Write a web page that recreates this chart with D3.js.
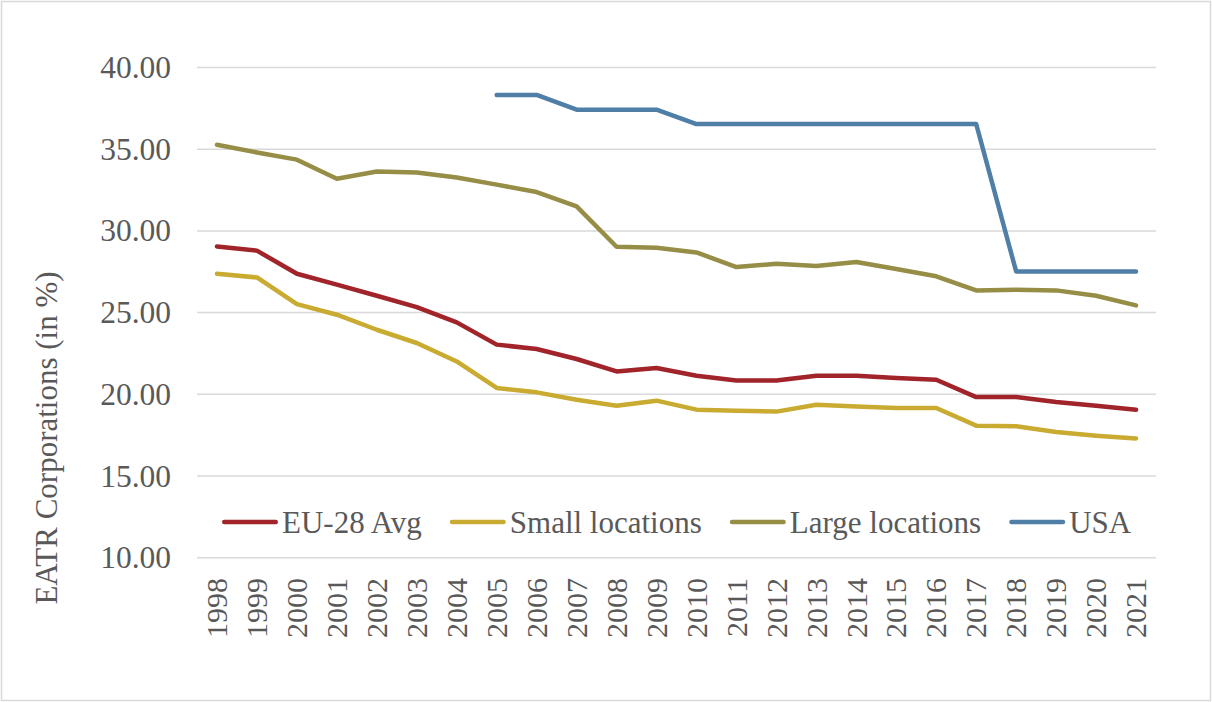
<!DOCTYPE html>
<html>
<head>
<meta charset="utf-8">
<script src="https://cdn.jsdelivr.net/npm/d3@7/dist/d3.min.js"></script>
<style>
  html, body { margin: 0; padding: 0; background: #fff; }
  svg text { font-family: "Liberation Serif", "Times New Roman", serif; fill: #595959; }
</style>
</head>
<body>
<svg id="chart" width="1212" height="702"></svg>
<script>
const years = ["1998","1999","2000","2001","2002","2003","2004","2005","2006","2007","2008","2009","2010","2011","2012","2013","2014","2015","2016","2017","2018","2019","2020","2021"];
const eu28Avg = [29.05,28.79,27.38,26.71,26.03,25.34,24.40,23.04,22.77,22.16,21.40,21.61,21.14,20.85,20.85,21.14,21.14,21.00,20.89,19.83,19.83,19.53,19.30,19.06];
const smallLoc = [27.38,27.15,25.52,24.87,23.95,23.14,22.01,20.39,20.12,19.67,19.30,19.61,19.06,19.00,18.94,19.36,19.26,19.16,19.16,18.08,18.04,17.69,17.47,17.30];
const largeLoc = [35.27,34.80,34.36,33.19,33.64,33.58,33.27,32.83,32.38,31.50,29.03,28.97,28.68,27.79,27.99,27.85,28.10,27.67,27.22,26.36,26.40,26.36,26.03,25.44];
const usa = [null,null,null,null,null,null,null,38.32,38.32,37.42,37.42,37.42,36.54,36.54,36.54,36.54,36.54,36.54,36.54,36.54,27.52,27.52,27.52,27.52];
const yTicks = [10,15,20,25,30,35,40];
const seriesNames = ["EU-28 Avg","Small locations","Large locations","USA"];
const seriesColors = ["#A0242A","#C9AB31","#968D46","#4F7EA7"];
const seriesData = [eu28Avg, smallLoc, largeLoc, usa];

const svg = d3.select("#chart");
svg.append("rect").attr("x",1.5).attr("y",1.5).attr("width",1209).attr("height",699)
  .attr("fill","#fff").attr("stroke","#d9d9d9").attr("stroke-width",1.5);

const x = d3.scaleBand().domain(years).range([197,1156]);
const y = d3.scaleLinear().domain([10,40]).range([557.7,67.5]);

// gridlines
svg.append("g").selectAll("line").data(yTicks).join("line")
  .attr("x1",197).attr("x2",1156)
  .attr("y1",d=>y(d)).attr("y2",d=>y(d))
  .attr("stroke","#d9d9d9").attr("stroke-width",1.5);

// y axis labels
const yAxis = d3.axisLeft(y).tickValues(yTicks).tickFormat(d3.format(".2f")).tickSize(0).tickPadding(0);
const gy = svg.append("g").attr("transform","translate(171,0)").call(yAxis);
gy.select(".domain").remove();
gy.selectAll("text").attr("font-size",31.5).attr("fill","#595959")
  .style("font-family","'Liberation Serif', serif");

// x axis labels
const xAxis = d3.axisBottom(x).tickSize(0).tickPadding(0);
const gx = svg.append("g").attr("transform","translate(0,578)").call(xAxis);
gx.select(".domain").remove();
gx.selectAll("text")
  .attr("font-size",30).attr("fill","#595959")
  .style("font-family","'Liberation Serif', serif")
  .attr("text-anchor","end")
  .attr("transform","rotate(-90)")
  .attr("x",0).attr("y",0).attr("dy","0.34em");

// y title
svg.append("text").attr("transform","translate(46,438) rotate(-90)")
  .attr("text-anchor","middle").attr("dy","0.35em")
  .attr("font-size",31).text("EATR Corporations (in %)");

// lines
const line = d3.line()
  .defined(d=>d.v!=null)
  .x(d=>x(d.k)+x.bandwidth()/2)
  .y(d=>y(d.v));
seriesData.forEach((arr,i)=>{
  svg.append("path")
    .datum(arr.map((v,j)=>({k:years[j],v})))
    .attr("d",line)
    .attr("fill","none")
    .attr("stroke",seriesColors[i])
    .attr("stroke-width",4.5)
    .attr("stroke-linejoin","round")
    .attr("stroke-linecap","round");
});

// legend
const lg = svg.append("g");
let cx = 222;
const ly = 522;
seriesNames.forEach((name,i)=>{
  lg.append("line").attr("x1",cx+2.25).attr("x2",cx+56-2.25).attr("y1",ly).attr("y2",ly)
    .attr("stroke",seriesColors[i]).attr("stroke-width",4.5).attr("stroke-linecap","round");
  const t = lg.append("text").attr("x",cx+60).attr("y",ly).attr("dy","0.35em")
    .attr("font-size",31).text(name);
  const w = t.node().getComputedTextLength();
  cx = cx + 60 + w + 28;
});
</script>
</body>
</html>
